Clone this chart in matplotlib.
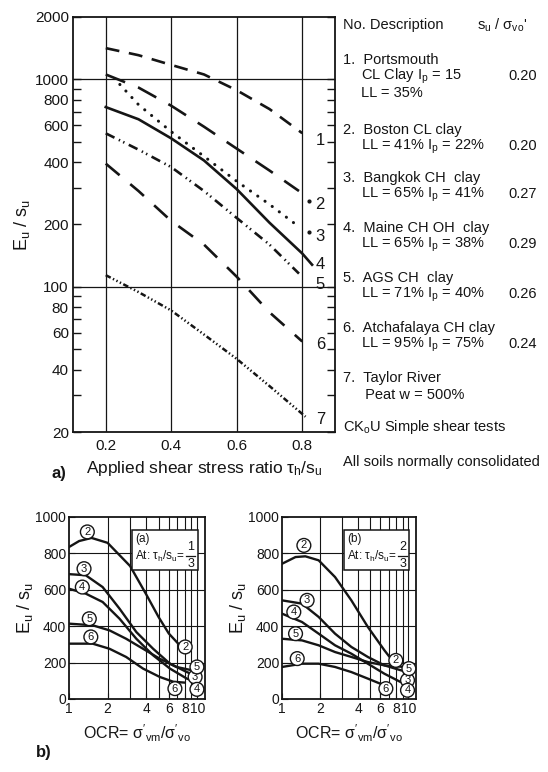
import matplotlib
matplotlib.use("Agg")
from matplotlib import pyplot as plt
from matplotlib.patches import Rectangle
from matplotlib.ticker import FixedLocator, NullFormatter

plt.rcParams['font.family'] = ['Liberation Sans', 'DejaVu Sans']
plt.rcParams['mathtext.fontset'] = 'custom'
plt.rcParams['mathtext.rm'] = 'Liberation Sans'
plt.rcParams['mathtext.it'] = 'Liberation Sans'
plt.rcParams['mathtext.bf'] = 'Liberation Sans:bold'
plt.rcParams['lines.scale_dashes'] = False

# ---- a) Eu/su vs applied shear stress ratio (log y)
tau1 = [0.2, 0.3, 0.4, 0.5, 0.6, 0.7, 0.8]
eu1 = [1416, 1309, 1175, 1057, 887, 720, 551]
tau2 = [0.2, 0.3, 0.4, 0.5, 0.6, 0.7, 0.79]
eu2 = [1057, 914, 747, 592, 464, 364, 290]
tau3 = [0.243, 0.3, 0.4, 0.5, 0.6, 0.7, 0.79]
eu3 = [946, 756, 560, 426, 323, 250, 195]
tau4 = [0.2, 0.3, 0.4, 0.5, 0.6, 0.7, 0.8, 0.83]
eu4 = [736, 643, 520, 407, 296, 204, 145, 128]
tau5 = [0.2, 0.3, 0.4, 0.5, 0.6, 0.7, 0.79]
eu5 = [550, 459, 378, 290, 215, 160, 116]
tau6 = [0.2, 0.3, 0.4, 0.5, 0.6, 0.7, 0.8]
eu6 = [393, 290, 208, 160, 112, 75.5, 54.6]
tau7 = [0.2, 0.3, 0.4, 0.5, 0.6, 0.7, 0.81]
eu7 = [114, 94.5, 77, 59, 45, 33.3, 23.7]

curve_ids = ["1", "2", "3", "4", "5", "6", "7"]
label_y = [509, 251, 175, 128, 103, 53, 23]

soil_names = ["Portsmouth", "Boston CL clay", "Bangkok CH  clay",
              "Maine CH OH  clay", "AGS CH  clay", "Atchafalaya CH clay",
              "Taylor River"]
soil_props = [r"CL Clay $\mathregular{I_p}$ = 15",
              r"LL = 41% $\mathregular{I_p}$ = 22%",
              r"LL = 65% $\mathregular{I_p}$ = 41%",
              r"LL = 65% $\mathregular{I_p}$ = 38%",
              r"LL = 71% $\mathregular{I_p}$ = 40%",
              r"LL = 95% $\mathregular{I_p}$ = 75%",
              " Peat w = 500%"]
su_ratio = ["0.20", "0.20", "0.27", "0.29", "0.26", "0.24", ""]

# ---- b) Eu/su vs OCR, two stress levels
ocr_a2 = [1, 1.2, 1.5, 2, 3, 4, 5, 6, 7.2]
eu_a2 = [835, 868, 885, 858, 730, 575, 450, 360, 300]
ocr_a3 = [1, 1.35, 1.83, 2.48, 3.35, 4.53, 6.13, 8.3, 9.3]
eu_a3 = [686, 680, 615, 496, 368, 276, 194, 148, 135]
ocr_a4 = [1, 1.35, 1.83, 2.48, 3.35, 4.53, 6.13, 8.3, 9.3]
eu_a4 = [606, 579, 533, 441, 331, 240, 167, 112, 100]
ocr_a5 = [1, 1.53, 2.07, 2.79, 3.78, 5.11, 6.9, 8.8]
eu_a5 = [414, 405, 377, 331, 276, 221, 176, 160]
ocr_a6 = [1, 1.53, 2.07, 2.79, 3.78, 5.11, 6.5, 8.0]
eu_a6 = [304, 304, 276, 231, 167, 121, 95, 90]

ocr_b2 = [1, 1.28, 1.53, 1.95, 2.63, 3.54, 4.78, 6.46, 7.27]
eu_b2 = [743, 780, 784, 762, 670, 542, 396, 268, 222]
ocr_b3 = [1, 1.44, 1.95, 2.63, 3.54, 4.78, 6.46, 8.7, 9.6]
eu_b3 = [542, 524, 451, 359, 286, 231, 185, 158, 150]
ocr_b4 = [1, 1.44, 1.95, 2.63, 3.54, 4.78, 6.46, 8.7, 9.6]
eu_b4 = [469, 423, 359, 295, 249, 194, 139, 93, 88]
ocr_b5 = [1, 1.44, 1.95, 2.63, 3.54, 4.78, 6.46, 9.3]
eu_b5 = [331, 322, 295, 258, 231, 203, 185, 176]
ocr_b6 = [1, 1.44, 1.95, 2.63, 3.54, 4.78, 6.46, 7.27]
eu_b6 = [176, 194, 194, 176, 148, 112, 75, 66]

# circled labels (start / end of each curve)
circ_ids = ["2", "3", "4", "5", "6"]
circ_a_start = [(1.39, 918), (1.31, 716), (1.27, 615), (1.44, 441), (1.48, 341)]
circ_a_end = [(8.06, 286), (9.63, 121), (9.95, 53), (9.95, 176), (6.7, 57)]
circ_b_start = [(1.49, 844), (1.58, 542), (1.24, 478), (1.28, 359), (1.32, 222)]
circ_b_end = [(7.96, 212), (9.85, 103), (9.85, 48), (10.1, 167), (6.64, 57)]

W, H = 548, 772
fig = plt.figure(figsize=(W / 100, H / 100), dpi=100)
renderer = fig.canvas.get_renderer()
ink = "#151515"


def box(l, t, r, b):
    return [l / W, 1 - b / H, (r - l) / W, (b - t) / H]


def ftext(x, y, s, **kw):
    fig.text(x / W, 1 - y / H, s, color=ink, va="center", **kw)


# ---------------- panel a
ax = fig.add_axes(box(73, 17, 335, 432))
ax.set_yscale("log")
ax.set_xlim(0.1, 0.9)
ax.set_ylim(20, 2000)
lw = 1.9
ax.plot(tau1, eu1, c=ink, lw=lw, dashes=[10, 7], solid_capstyle="butt")
ax.plot(tau2, eu2, c=ink, lw=lw, dashes=[15, 10])
ax.plot(tau3, eu3, c=ink, lw=2.2, dashes=[0.1, 6.3], dash_capstyle="round")
ax.plot(tau4, eu4, c=ink, lw=lw)
ax.plot(tau5, eu5, c=ink, lw=lw, dashes=[7, 3.5, 1, 2.5, 1, 3.5])
ax.plot(tau6, eu6, c=ink, lw=lw, dashes=[13, 10])
ax.plot(tau7, eu7, c=ink, lw=1.8, dashes=[4, 1.8, 1, 1.8, 1, 1.8, 1, 1.8])
for cid, ly in zip(curve_ids, label_y):
    ax.text(0.855, ly, cid, fontsize=12, color=ink, ha="center", va="center")
ax.plot([0.822, 0.822], [260, 184], ls="none", marker="o", ms=2, c=ink)

ax.set_xticks([0.2, 0.4, 0.6, 0.8])
ax.set_xticklabels(["0.2", "0.4", "0.6", "0.8"])
ax.yaxis.set_major_locator(FixedLocator([20, 40, 60, 80, 100, 200, 400, 600, 800, 1000, 2000]))
ax.yaxis.set_minor_locator(FixedLocator([30, 50, 70, 90, 300, 500, 700, 900]))
ax.set_yticklabels(["20", "40", "60", "80", "100", "200", "400", "600", "800", "1000", "2000"])
ax.yaxis.set_minor_formatter(NullFormatter())
ax.tick_params(axis="x", length=0, labelsize=11, pad=5, colors=ink)
ax.tick_params(axis="y", which="both", direction="in", right=True, length=6,
               labelsize=11, pad=3, colors=ink, width=1)
for x in [0.2, 0.4, 0.6, 0.8]:
    ax.axvline(x, c=ink, lw=0.9)
for y in [100, 1000]:
    ax.axhline(y, c=ink, lw=0.9)
for s in ax.spines.values():
    s.set_linewidth(1.3)
    s.set_color(ink)
ax.set_xlabel(r"Applied shear stress ratio $\tau_h/s_u$", fontsize=12.5, color=ink, labelpad=4)
ax.set_ylabel(r"$\mathregular{E_u}$ / $\mathregular{s_u}$", fontsize=13, color=ink, labelpad=2)
ftext(52, 474, "a)", fontsize=12, fontweight="bold")

# legend table
fs = 10.5
ftext(343, 25, "No. Description", fontsize=fs)
ftext(477, 25, r"$\mathregular{s_u}$ / $\mathregular{\sigma_{vo}}$'", fontsize=fs)
name_y = [60, 130, 178, 228, 278, 328, 378]
for i in range(7):
    py = name_y[i] + 16.5
    ftext(343, name_y[i], f"{i + 1}.  {soil_names[i]}", fontsize=fs)
    ftext(361, py, soil_props[i], fontsize=fs)
    if su_ratio[i]:
        ftext(508, py, su_ratio[i], fontsize=fs)
ftext(361, 93, "LL = 35%", fontsize=fs)
ftext(343, 427, r"CK$\mathregular{_o}$U Simple shear tests", fontsize=fs)
ftext(343, 462, "All soils normally consolidated", fontsize=fs)


# ---------------- panel b
def ocr_panel(rect, curves, starts, ends, tag, num):
    a = fig.add_axes(rect)
    a.set_xscale("log")
    a.set_xlim(1, 11.5)
    a.set_ylim(0, 1000)
    for xs, ys in curves:
        a.plot(xs, ys, c=ink, lw=1.7)
    for x in range(2, 11):
        a.axvline(x, c=ink, lw=0.8, zorder=0.5)
    for y in [200, 400, 600, 800]:
        a.axhline(y, c=ink, lw=0.8, zorder=0.5)
    for pts in (starts, ends):
        for cid, (x, y) in zip(circ_ids, pts):
            a.text(x, y, cid, fontsize=8, color=ink, ha="center", va="center",
                   bbox=dict(boxstyle="circle,pad=0.17", fc="white", ec=ink, lw=1.0), zorder=4)
    a.xaxis.set_major_locator(FixedLocator([1, 2, 4, 6, 8, 10]))
    a.xaxis.set_minor_locator(FixedLocator([3, 5, 7, 9]))
    a.set_xticklabels(["1", "2", "4", "6", "8", "10"])
    a.xaxis.set_minor_formatter(NullFormatter())
    a.set_yticks([0, 200, 400, 600, 800, 1000])
    a.tick_params(which="both", direction="in", length=4, labelsize=10, colors=ink, pad=2)
    for s in a.spines.values():
        s.set_linewidth(1.3)
        s.set_color(ink)
    # inset note box
    a.add_patch(Rectangle((0.46, 0.71), 0.49, 0.22, transform=a.transAxes,
                          fc="white", ec=ink, lw=1.1, zorder=3))
    a.text(0.49, 0.88, tag, transform=a.transAxes, fontsize=8.5, color=ink,
           va="center", zorder=5)
    t = a.text(0.485, 0.785, r"At: $\tau_h/s_u$=", transform=a.transAxes,
               fontsize=8.5, color=ink, va="center", zorder=5)
    bb = t.get_window_extent(renderer).transformed(a.transAxes.inverted())
    fx = bb.x1 + 0.045
    a.text(fx, 0.835, num, transform=a.transAxes, fontsize=9, color=ink,
           ha="center", va="center", zorder=5)
    a.text(fx, 0.74, "3", transform=a.transAxes, fontsize=9, color=ink,
           ha="center", va="center", zorder=5)
    a.plot([fx - 0.035, fx + 0.035], [0.787, 0.787], transform=a.transAxes,
           c=ink, lw=0.9, zorder=5)
    a.set_xlabel(r"OCR= $\mathregular{\sigma'_{vm}/\sigma'_{vo}}$", fontsize=11.5, color=ink, labelpad=5)
    a.set_ylabel(r"$\mathregular{E_u}$ / $\mathregular{s_u}$", fontsize=13, color=ink, labelpad=0)
    return a


ocr_panel(box(69, 517, 205, 699),
          [(ocr_a2, eu_a2), (ocr_a3, eu_a3), (ocr_a4, eu_a4), (ocr_a5, eu_a5), (ocr_a6, eu_a6)],
          circ_a_start, circ_a_end, "(a)", "1")
ocr_panel(box(282, 517, 416, 699),
          [(ocr_b2, eu_b2), (ocr_b3, eu_b3), (ocr_b4, eu_b4), (ocr_b5, eu_b5), (ocr_b6, eu_b6)],
          circ_b_start, circ_b_end, "(b)", "2")
ftext(36, 752, "b)", fontsize=12, fontweight="bold")

fig.savefig("out.png", dpi=100, facecolor="white")
